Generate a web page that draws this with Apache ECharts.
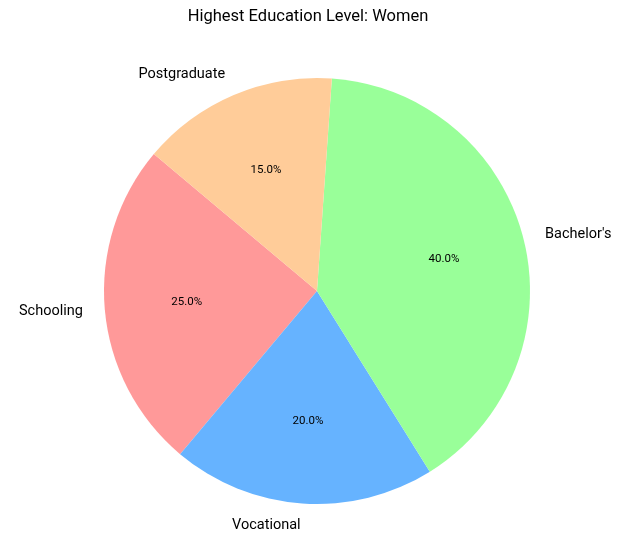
<!DOCTYPE html>
<html><head><meta charset="utf-8">
<script src="https://cdn.jsdelivr.net/npm/echarts@6/dist/echarts.min.js"></script>
<style>html,body{margin:0;padding:0;background:#fff}#c{width:617px;height:546px}</style>
</head><body><div id="c"></div>
<script>
const categories = ["Schooling", "Vocational", "Bachelor's", "Postgraduate"];
const values = [25, 20, 40, 15];
const colors = ['#ff9999', '#66b3ff', '#99ff99', '#ffcc99'];
const titleText = 'Highest Education Level: Women';

const R = 213;
const center = [317, 291];
const font = 'Roboto, "Noto Sans", sans-serif';

const chart = echarts.init(document.getElementById('c'), null, {renderer: 'canvas'});
chart.setOption({
  animation: false,
  backgroundColor: '#ffffff',
  title: {
    text: titleText, left: 303, top: 3, textAlign: 'center',
    textStyle: {fontFamily: font, fontSize: 16.5, fontWeight: 'normal', color: '#000'}
  },
  series: [
    {
      type: 'pie', center: center, radius: [0, R], startAngle: 140, clockwise: false,
      avoidLabelOverlap: false, silent: true,
      data: categories.map((c, i) => ({name: c, value: values[i], itemStyle: {color: colors[i]}})),
      label: {show: true, position: 'outside', formatter: '{b}', fontFamily: font, fontSize: 14.5, color: '#000', distanceToLabelLine: 0},
      labelLine: {show: false, length: 22, length2: 0}
    },
    {
      type: 'pie', center: center, radius: [0, R * 1.2], startAngle: 140, clockwise: false,
      avoidLabelOverlap: false, silent: true, z: 5,
      data: categories.map((c, i) => ({name: c, value: values[i], itemStyle: {color: 'rgba(0,0,0,0)'}})),
      label: {show: true, position: 'inside', formatter: (p) => p.value.toFixed(1) + '%', fontFamily: font, fontSize: 11.5, color: '#000'},
      labelLine: {show: false}
    }
  ]
});
</script></body></html>
